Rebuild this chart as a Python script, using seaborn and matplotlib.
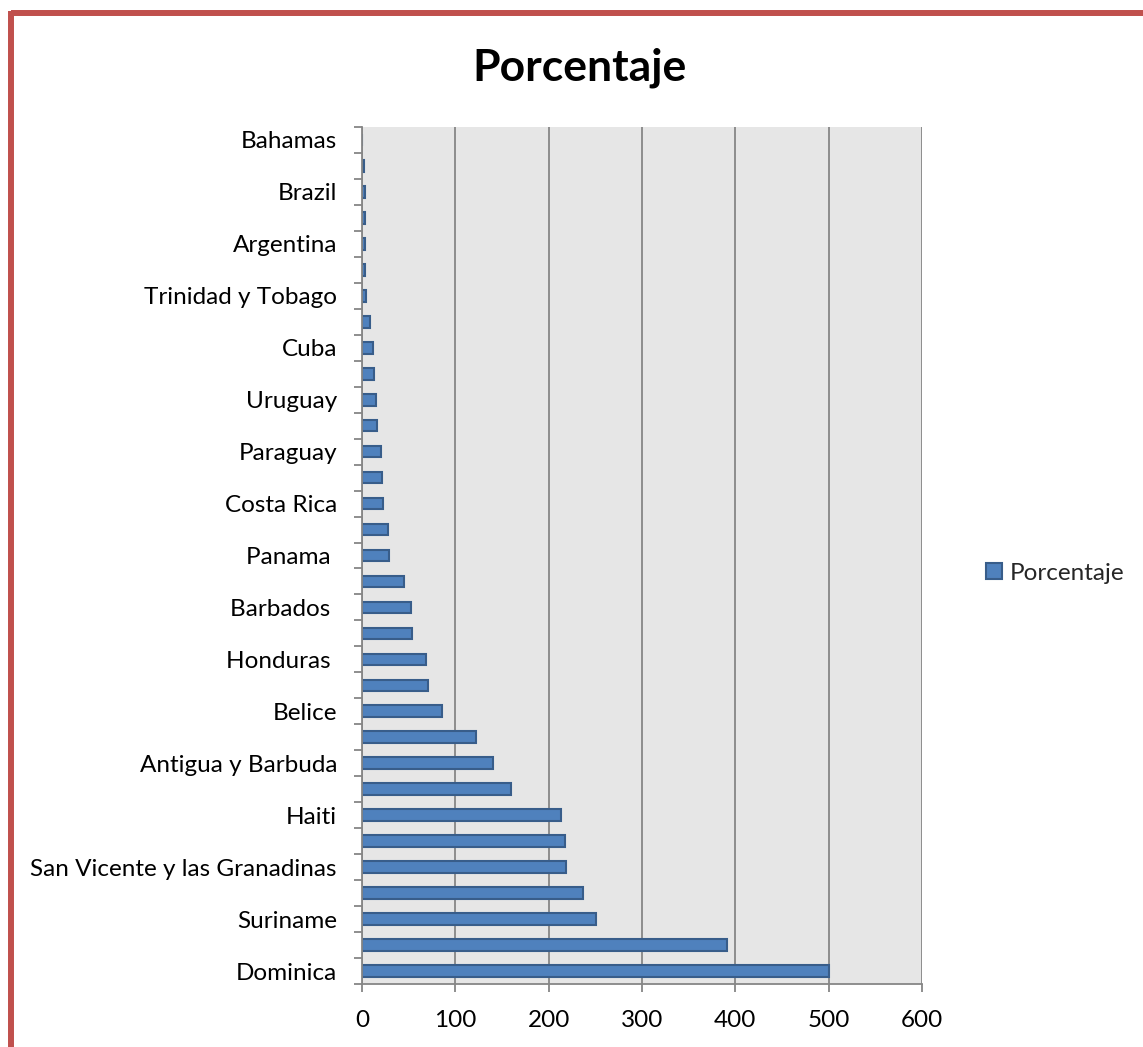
import matplotlib
matplotlib.use('Agg')
import matplotlib.pyplot as plt
from matplotlib.lines import Line2D
import seaborn as sns
import pandas as pd
import numpy as np

# Categories from top to bottom (Excel only labels every other one)
labels = ['Bahamas', '', 'Brazil', '', 'Argentina', '', 'Trinidad y Tobago', '',
          'Cuba', '', 'Uruguay', '', 'Paraguay', '', 'Costa Rica', '', 'Panama ', '',
          'Barbados ', '', 'Honduras ', '', 'Belice', '', 'Antigua y Barbuda', '',
          'Haiti', '', 'San Vicente y las Granadinas', '', 'Suriname', '', 'Dominica']
values = [0, 2.5, 3.6, 3.6, 3.4, 3.4, 4.3, 8.6, 11.5, 12.5, 14.7, 15.8, 20.0, 21.1,
          22.2, 27.5, 28.6, 45.0, 52.2, 53.3, 68.3, 71.2, 85.4, 121.7, 140.6, 159.9,
          213.4, 217.7, 218.8, 237.3, 250.5, 391.5, 500.0]
series_name = 'Porcentaje'
x_ticks = [0, 100, 200, 300, 400, 500, 600]

sns.set_theme(style='white')
plt.rcParams['font.family'] = ['Lato', 'DejaVu Sans']

W, H = 1143, 1047
FS = 17.5
fig = plt.figure(figsize=(W / 100, H / 100), dpi=100)
ax = fig.add_axes([362 / W, 1 - 984 / H, (922 - 362) / W, (984 - 127) / H])
ax.set_facecolor('#E6E6E6')

df = pd.DataFrame({'pos': list(range(len(values))), 'val': values, 'serie': series_name})
sns.barplot(data=df, x='val', y='pos', hue='serie', orient='h',
            palette=['#4F81BD'], saturation=1, edgecolor='#385D8A', linewidth=1.5,
            width=0.45, ax=ax, legend=True)

handles, leg_labels = ax.get_legend_handles_labels()
if ax.get_legend() is not None:
    ax.get_legend().remove()

ax.set_xlim(x_ticks[0], x_ticks[-1])
ax.set_ylim(len(values) - 0.5, -0.5)
ax.set_xticks(x_ticks)
ax.set_xticklabels([str(t) for t in x_ticks], fontsize=FS)
ax.set_yticks(range(len(values)))
ax.set_yticklabels(labels, fontsize=FS)
ax.set_yticks(np.arange(-0.5, len(values), 1), minor=True)
ax.set_xlabel('')
ax.set_ylabel('')

grid_c = '#868686'
ax.xaxis.grid(True, color=grid_c, linewidth=1.3)
ax.yaxis.grid(False)
ax.set_axisbelow(True)
for s in ['top', 'right']:
    ax.spines[s].set_visible(False)
for s in ['left', 'bottom']:
    ax.spines[s].set_color(grid_c)
    ax.spines[s].set_linewidth(1.3)

ax.tick_params(axis='y', which='major', length=0, pad=18, colors='black')
ax.tick_params(axis='y', which='minor', left=True, length=5.5, width=1.3, color=grid_c, direction='out')
ax.tick_params(axis='x', which='major', bottom=True, length=5.5, width=1.3, color=grid_c,
               direction='out', pad=13.5, labelcolor='black')

fig.legend(handles, leg_labels, loc='center left', bbox_to_anchor=(964 / W, 1 - 573 / H),
           frameon=False, fontsize=FS, handlelength=0.65, handleheight=0.65, handletextpad=0.35)

fig.text(580 / W, 1 - 68 / H, 'Porcentaje', ha='center', va='center',
         fontsize=32, fontweight='bold', color='black')

# chart-area border (top and left visible)
border_c = '#C0504D'
fig.add_artist(Line2D([10.5 / W, 1.02], [1 - 13 / H, 1 - 13 / H], transform=fig.transFigure,
                      color=border_c, linewidth=4.3, solid_capstyle='butt'))
fig.add_artist(Line2D([10.5 / W, 10.5 / W], [-0.02, 1 - 10.5 / H], transform=fig.transFigure,
                      color=border_c, linewidth=4.3, solid_capstyle='butt'))

fig.savefig('out.png', dpi=100, facecolor='white')
